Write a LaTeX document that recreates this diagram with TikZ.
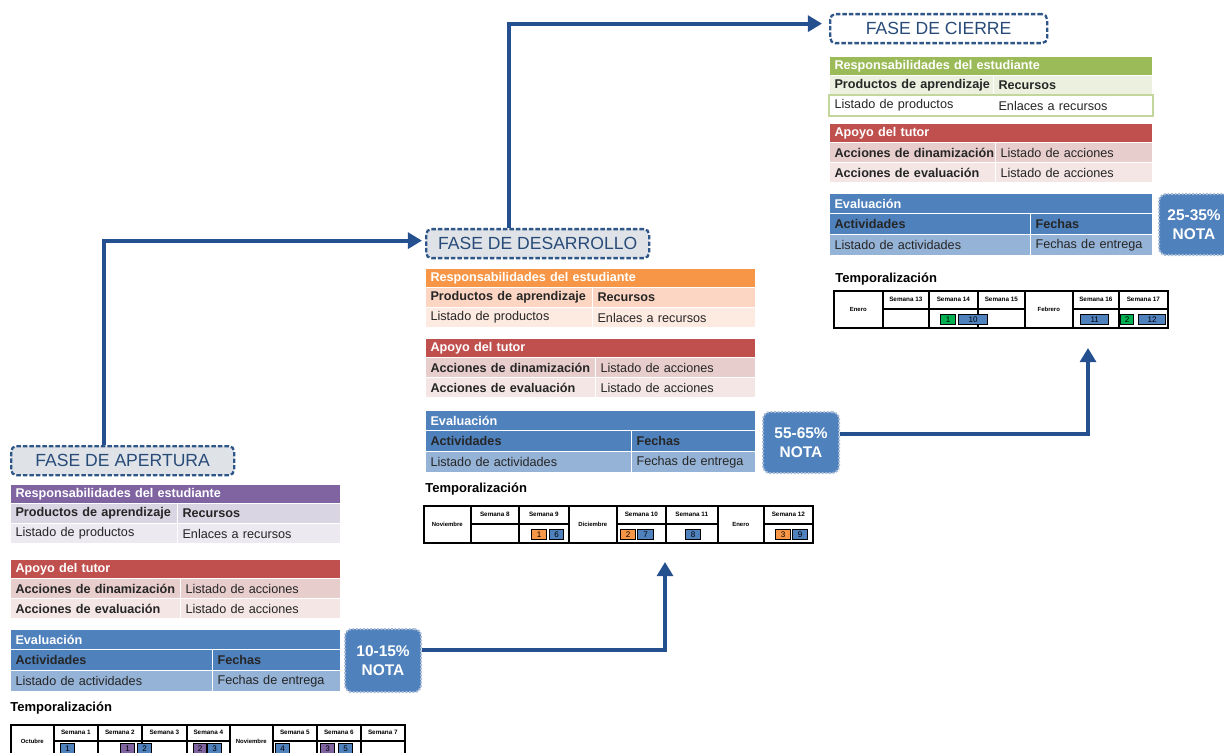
\documentclass[tikz,border=0pt]{standalone}
\usepackage{fontspec}
\setmainfont{Liberation Sans}
\usetikzlibrary{%
  arrows.meta,% Triangle tips
  positioning%
}

\definecolor{morado}{HTML}{8064A2}
\definecolor{moradoA}{HTML}{DAD5E3}
\definecolor{moradoB}{HTML}{ECE9F1}
\definecolor{rojo}{HTML}{C0504D}
\definecolor{rojoA}{HTML}{E7CDCC}
\definecolor{rojoB}{HTML}{F3E6E5}
\definecolor{azul}{HTML}{4F81BD}
\definecolor{azulB}{HTML}{95B3D7}
\definecolor{naranja}{HTML}{F79646}
\definecolor{naranjaA}{HTML}{FCD6C3}
\definecolor{naranjaB}{HTML}{FDEAE1}
\definecolor{verde}{HTML}{9BBB59}
\definecolor{verdeA}{HTML}{EBF1DE}
\definecolor{verdeC}{HTML}{C3D69B}
\definecolor{verdenum}{HTML}{00B050}
\definecolor{grisfase}{HTML}{DFE3E8}
\definecolor{azulfase}{HTML}{2F5688}
\definecolor{azultexto}{HTML}{274A78}
\definecolor{azulflecha}{HTML}{24508F}
\definecolor{azulborde}{HTML}{A9BCD6}

\newcommand{\pxu}{0.02cm}
\newcommand{\tabfont}{\fontsize{7.2}{9}\selectfont}
\newcommand{\tabbf}{\fontsize{7.2}{9}\selectfont\bfseries}
\newcommand{\fasefont}{\fontsize{10}{12}\selectfont}
\newcommand{\notafont}{\fontsize{8.8}{11}\selectfont\bfseries}
\newcommand{\tempfont}{\fontsize{7.4}{9}\selectfont\bfseries}
\newcommand{\mesfont}{\fontsize{3.4}{4}\selectfont\bfseries}
\newcommand{\semfont}{\fontsize{3.6}{4}\selectfont\bfseries}
\newcommand{\numfont}{\fontsize{4.6}{5}\selectfont}

% #1 prefijo, #2 x, #3 y, #4 ancho, #5 corte, #6 cabecera, #7 fila 1, #8 fila 2
\newcommand{\tablaresp}[8]{%
  \node[cab=#4, fill=#6] (#1cab) at (#2,#3) {\mbox{Responsabilidades del estudiante}};
  \node[celda=#5, fill=#7, font=\tabbf] (#1a) at (#2,#3+19) {\mbox{Productos de aprendizaje}};
  \node[celda=#4-#5, fill=#7, font=\tabbf] (#1b) at (#2+#5,#3+19) {Recursos};
  \node[celda=#5, fill=#8] (#1c) at (#2,#3+39) {\mbox{Listado de productos}};
  \node[celda=#4-#5, fill=#8] (#1d) at (#2+#5,#3+39) {\mbox{Enlaces a recursos}};
}
\newcommand{\tablaapoyo}[5]{%
  \node[cab=#4, fill=rojo] (#1cab) at (#2,#3) {\mbox{Apoyo del tutor}};
  \node[celda=#5, fill=rojoA, font=\tabbf] (#1a) at (#2,#3+19) {\mbox{Acciones de dinamización}};
  \node[celda=#4-#5, fill=rojoA] (#1b) at (#2+#5,#3+19) {\mbox{Listado de acciones}};
  \node[celda=#5, fill=rojoB, font=\tabbf] (#1c) at (#2,#3+39) {\mbox{Acciones de evaluación}};
  \node[celda=#4-#5, fill=rojoB] (#1d) at (#2+#5,#3+39) {\mbox{Listado de acciones}};
}
\newcommand{\tablaeval}[5]{%
  \node[cab=#4, fill=azul, minimum height=20*\pxu] (#1cab) at (#2,#3) {Evaluación};
  \node[celda=#5, fill=azul, font=\tabbf, minimum height=21*\pxu] (#1a) at (#2,#3+20) {Actividades};
  \node[celda=#4-#5, fill=azul, font=\tabbf, minimum height=21*\pxu] (#1b) at (#2+#5,#3+20) {Fechas};
  \node[celda=#5, fill=azulB, minimum height=21*\pxu] (#1c) at (#2,#3+41) {\mbox{Listado de actividades}};
  \node[celda=#4-#5, fill=azulB, minimum height=21*\pxu] (#1d) at (#2+#5,#3+41) {\mbox{Fechas de entrega}};
}

\begin{document}
\begin{tikzpicture}[x=0.02cm, y=-0.02cm,
  cab/.style={anchor=north west, text width={(#1-10)*\pxu}, minimum height=19*\pxu,
    inner xsep=5*\pxu, inner ysep=0pt, draw=white, line width=0.6pt, font=\tabbf, text=white},
  celda/.style={cab=#1, minimum height=20*\pxu, font=\tabfont, text=black!85},
  fase/.style={anchor=north west, draw=azulfase, dash pattern=on 2.5pt off 1.2pt, line width=1.3pt,
    rounded corners=3pt, fill=grisfase, text=azultexto, font=\fasefont, minimum height=29*\pxu, inner sep=0pt},
  nota/.style={anchor=north west, fill=azul, draw=azulborde, dash pattern=on 1pt off 1pt, line width=1.2pt,
    rounded corners=4pt, text=white, font=\notafont, align=center, inner sep=0pt},
  flecha/.style={draw=azulflecha, line width=2.3pt, -{Triangle[length=8pt,width=9pt]}},
  temp/.style={anchor=west, font=\tempfont, inner sep=0pt},
  mes/.style={anchor=north west, draw, line width=0.9pt, inner sep=0pt, font=\mesfont},
  semana/.style={anchor=north west, draw, line width=0.9pt, inner sep=0pt, font=\semfont},
  hueco/.style={anchor=north west, draw, line width=0.9pt, inner sep=0pt},
  numero/.style={anchor=north west, draw=black, line width=0.8pt, inner sep=0pt, minimum height=10*\pxu, font=\numfont}
]
\useasboundingbox (0,0) rectangle (1224,753);
\clip (0,0) rectangle (1224,753);

% fase de apertura
\node[fase, minimum width=223*\pxu] (apertura) at (10,445) {FASE DE APERTURA};
\tablaresp{ap1}{10}{484}{330}{167}{morado}{moradoA}{moradoB}
\tablaapoyo{ap2}{10}{559}{330}{170}
\tablaeval{ap3}{10}{629}{330}{202}
\node[nota, minimum width=76*\pxu, minimum height=63*\pxu] (nota1) at (344,628) {10-15\%\\NOTA};
\node[temp] (temp1) at (10,708) {Temporalización};
\node[mes, minimum width=43*\pxu, minimum height=34*\pxu] (octubre) at (10,724) {Octubre};
\node[mes, minimum width=43*\pxu, minimum height=34*\pxu] (noviembre1) at (229,724) {Noviembre};
\foreach \a/\b/\n in {53/97/1, 97/141/2, 141/186/3, 186/229/4, 272/316/5, 316/360/6, 360/404/7} {
  \node[semana, minimum width={(\b-\a)*\pxu}, minimum height=16*\pxu] (p1s\n) at (\a,724) {Semana \n};
  \node[hueco, minimum width={(\b-\a)*\pxu}, minimum height=18*\pxu] (p1h\n) at (\a,740) {};
}
\foreach \x/\w/\c/\t in {60/14/azul/1, 120/14/morado/1, 137/14/azul/2, 193/13/morado/2,
    207/14/azul/3, 275/14/azul/4, 320/14/morado/3, 338/14/azul/5}
  \node[numero, fill=\c, minimum width=\w*\pxu] (p1n\x) at (\x,743) {\t};

% fase de desarrollo
\node[fase, minimum width=223*\pxu] (desarrollo) at (425,228) {FASE DE DESARROLLO};
\tablaresp{de1}{425}{268}{330}{167}{naranja}{naranjaA}{naranjaB}
\tablaapoyo{de2}{425}{338}{330}{170}
\tablaeval{de3}{425}{410}{330}{206}
\node[nota, minimum width=76*\pxu, minimum height=61*\pxu] (nota2) at (762,411) {55-65\%\\NOTA};
\node[temp] (temp2) at (425,489) {Temporalización};
\node[mes, minimum width=47*\pxu, minimum height=37*\pxu] (noviembre2) at (423,505) {Noviembre};
\node[mes, minimum width=48*\pxu, minimum height=37*\pxu] (diciembre) at (568,505) {Diciembre};
\node[mes, minimum width=46*\pxu, minimum height=37*\pxu] (enero1) at (717,505) {Enero};
\foreach \a/\b/\n in {470/518/8, 518/568/9, 616/665/10, 665/717/11, 763/812/12} {
  \node[semana, minimum width={(\b-\a)*\pxu}, minimum height=18*\pxu] (p2s\n) at (\a,505) {Semana \n};
  \node[hueco, minimum width={(\b-\a)*\pxu}, minimum height=19*\pxu] (p2h\n) at (\a,523) {};
}
\foreach \x/\w/\c/\t in {531/15/naranja/1, 549/14/azul/6, 620/15/naranja/2, 637/16/azul/7,
    685/15/azul/8, 775/15/naranja/3, 792/15/azul/9}
  \node[numero, fill=\c, minimum width=\w*\pxu] (p2n\x) at (\x,529) {\t};

% fase de cierre
\node[fase, fill=white, minimum width=217*\pxu] (cierre) at (829,13) {FASE DE CIERRE};
\tablaresp{ci1}{829}{56}{323}{164}{verde}{verdeA}{white}
\draw[verdeC, line width=0.8pt] (ci1c.north west) rectangle (ci1d.south east);
\tablaapoyo{ci2}{829}{123}{323}{166}
\tablaeval{ci3}{829}{193}{323}{201}
\node[nota, minimum width=70*\pxu, minimum height=61*\pxu] (nota3) at (1158,193) {25-35\%\\NOTA};
\node[temp] (temp3) at (835,279) {Temporalización};
\node[mes, minimum width=49*\pxu, minimum height=37*\pxu] (enero2) at (833,290) {Enero};
\node[mes, minimum width=48*\pxu, minimum height=37*\pxu] (febrero) at (1024,290) {Febrero};
\foreach \a/\b/\n in {882/928/13, 928/977/14, 977/1024/15, 1072/1118/16, 1118/1167/17} {
  \node[semana, minimum width={(\b-\a)*\pxu}, minimum height=18*\pxu] (p3s\n) at (\a,290) {Semana \n};
  \node[hueco, minimum width={(\b-\a)*\pxu}, minimum height=19*\pxu] (p3h\n) at (\a,308) {};
}
\foreach \x/\w/\c/\t in {940/15/verdenum/1, 958/29/azul/10, 1080/28/azul/11, 1120/13/verdenum/2, 1138/27/azul/12}
  \node[numero, fill=\c, minimum width=\w*\pxu] (p3n\x) at (\x,314) {\t};

% flechas
\coordinate (meta2) at (665,562);
\coordinate (meta3) at (1088,348);
\draw[flecha] ([xshift=-19*\pxu]apertura.north) |- ([xshift=-3*\pxu, yshift=3*\pxu]desarrollo.west);
\draw[flecha] ([xshift=-29*\pxu]desarrollo.north) |- ([xshift=-7*\pxu, yshift=5*\pxu]cierre.west);
\draw[flecha] ([yshift=11*\pxu]nota1.east) -| (meta2);
\draw[flecha] ([yshift=9*\pxu]nota2.east) -| (meta3);
\end{tikzpicture}
\end{document}
